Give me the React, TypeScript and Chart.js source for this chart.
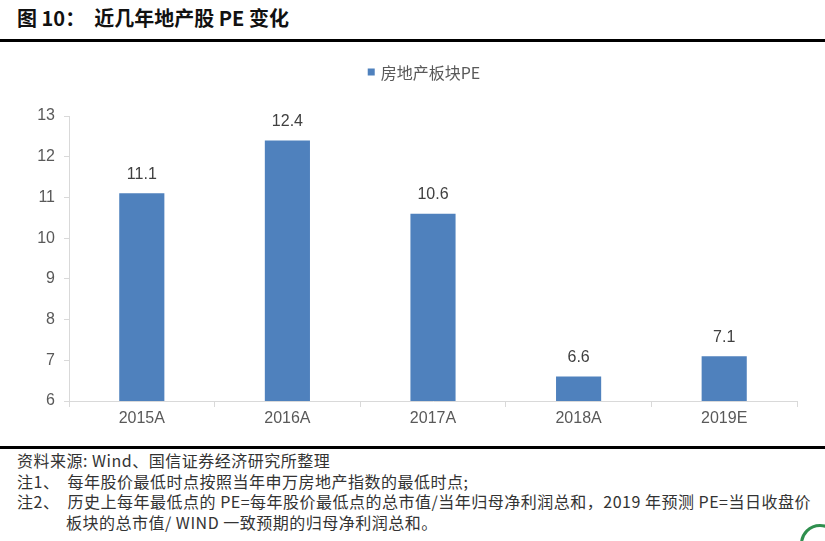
import React, { useEffect, useRef } from "react";
import { Chart, registerables } from "chart.js";

Chart.register(...registerables);

const categories = ["2015A", "2016A", "2017A", "2018A", "2019E"];
const peValues = [11.1, 12.4, 10.6, 6.6, 7.1];
const seriesLabel = "房地产板块PE";
const yTicksMin = 6;
const yTicksMax = 13;

const titleText = "图 10：  近几年地产股 PE 变化";
const footerLines = [
  "资料来源: Wind、国信证券经济研究所整理",
  "注1、  每年股价最低时点按照当年申万房地产指数的最低时点;",
  "注2、  历史上每年最低点的 PE=每年股价最低点的总市值/当年归母净利润总和，2019 年预测 PE=当日收盘价",
  "板块的总市值/ WIND 一致预期的归母净利润总和。",
];

const BAR_COLOR = "#4F81BD";
const AXIS_COLOR = "#D9D9D9";
const TICK_COLOR = "#595959";

const CANVAS_TOP = 45;
const CANVAS_W = 825;
const CANVAS_H = 395;

const valueLabelPlugin = {
  id: "valueLabels",
  afterDatasetsDraw(chart: any) {
    const ctx = chart.ctx;
    const meta = chart.getDatasetMeta(0);
    ctx.save();
    ctx.font = "16px 'Liberation Sans', Arial, sans-serif";
    ctx.fillStyle = "#404040";
    ctx.textAlign = "center";
    ctx.textBaseline = "middle";
    meta.data.forEach((el: any, i: number) => {
      const v = chart.data.datasets[0].data[i];
      ctx.fillText(v.toFixed(1), el.x, el.y - 19);
    });
    ctx.restore();
  },
};

const legendPlugin = {
  id: "customLegend",
  afterDraw(chart: any) {
    const ctx = chart.ctx;
    const ds = chart.data.datasets[0];
    ctx.save();
    ctx.font = "16px 'Noto Sans CJK SC', sans-serif";
    const textW = ctx.measureText(ds.label).width;
    const box = 7;
    const gap = 6;
    const total = box + gap + textW;
    const cx = 424;
    const x0 = cx - total / 2;
    const y = 27;
    ctx.fillStyle = ds.backgroundColor;
    ctx.fillRect(x0, y - box / 2, box, box);
    ctx.fillStyle = TICK_COLOR;
    ctx.textBaseline = "middle";
    ctx.textAlign = "left";
    ctx.fillText(ds.label, x0 + box + gap, y + 1);
    ctx.restore();
  },
};

export default function App() {
  const ref = useRef<HTMLCanvasElement | null>(null);

  useEffect(() => {
    if (!ref.current) return;
    const chart = new Chart(ref.current, {
      type: "bar",
      data: {
        labels: categories,
        datasets: [
          {
            label: seriesLabel,
            data: peValues,
            backgroundColor: BAR_COLOR,
            barPercentage: 0.31,
            categoryPercentage: 1,
          },
        ],
      },
      options: {
        responsive: false,
        animation: false,
        layout: { padding: { top: 71, left: 0, right: 28, bottom: 0 } },
        plugins: {
          legend: { display: false },
          tooltip: { enabled: false },
          title: { display: false },
        },
        scales: {
          x: {
            grid: {
              display: true,
              offset: true,
              drawOnChartArea: false,
              drawTicks: true,
              tickLength: 6,
              color: AXIS_COLOR,
            },
            border: { color: AXIS_COLOR, width: 1 },
            ticks: {
              color: TICK_COLOR,
              font: { size: 16, family: "'Liberation Sans', Arial, sans-serif" },
              padding: 2,
            },
            afterFit(scale: any) {
              scale.height = 39;
            },
          },
          y: {
            min: yTicksMin,
            max: yTicksMax,
            grid: {
              display: true,
              drawOnChartArea: false,
              drawTicks: true,
              tickLength: 5,
              color: AXIS_COLOR,
            },
            border: { color: AXIS_COLOR, width: 1 },
            ticks: {
              stepSize: 1,
              color: TICK_COLOR,
              font: { size: 16, family: "'Liberation Sans', Arial, sans-serif" },
              padding: 9,
            },
            afterFit(scale: any) {
              scale.width = 69;
            },
          },
        },
      },
      plugins: [valueLabelPlugin, legendPlugin],
    });
    return () => chart.destroy();
  }, []);

  const footerStyle: React.CSSProperties = {
    position: "absolute",
    left: 17,
    fontFamily: "'Noto Sans CJK SC', sans-serif",
    fontSize: 16,
    letterSpacing: "0.5px",
    color: "#333333",
    whiteSpace: "nowrap",
    lineHeight: "20px",
  };

  return (
    <div
      style={{
        position: "absolute",
        top: 0,
        left: 0,
        width: 825,
        height: 541,
        background: "#ffffff",
        overflow: "hidden",
      }}
    >
      <div
        style={{
          position: "absolute",
          left: 17,
          top: 5,
          fontFamily: "'Noto Sans CJK SC', sans-serif",
          fontWeight: 700,
          fontSize: 20,
          lineHeight: "26px",
          color: "#111",
          whiteSpace: "pre",
        }}
      >
        {titleText}
      </div>
      <div style={{ position: "absolute", left: 0, top: 39, width: 825, height: 3, background: "#000" }} />
      <canvas
        ref={ref}
        width={CANVAS_W}
        height={CANVAS_H}
        style={{ position: "absolute", left: 0, top: CANVAS_TOP, width: CANVAS_W, height: CANVAS_H }}
      />
      <div style={{ position: "absolute", left: 0, top: 446, width: 825, height: 3, background: "#000" }} />
      {footerLines.map((t, i) => (
        <div
          key={i}
          style={{
            ...footerStyle,
            left: i === 3 ? 66 : 17,
            top: 450 + i * 20.7,
            whiteSpace: "pre",
          }}
        >
          {t}
        </div>
      ))}
      <div
        style={{
          position: "absolute",
          left: 800,
          top: 524,
          width: 40,
          height: 40,
          borderRadius: "50%",
          border: "3px solid #2f8f4e",
          boxSizing: "border-box",
        }}
      />
    </div>
  );
}
